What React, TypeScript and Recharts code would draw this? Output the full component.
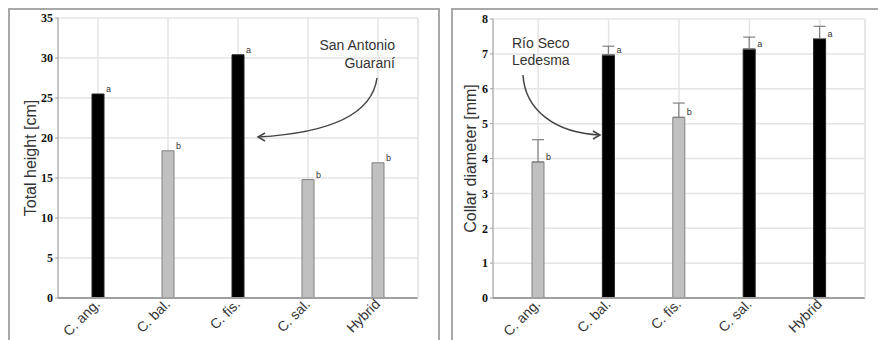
import { Bar, BarChart, CartesianGrid, Cell, ErrorBar, LabelList, XAxis, YAxis } from 'recharts';

const categories = ['C. ang.', 'C. bal.', 'C. fis.', 'C. sal.', 'Hybrid'];
const heightValues = [25.5, 18.4, 30.4, 14.8, 16.9];
const heightLetters = ['a', 'b', 'a', 'b', 'b'];
const heightTicks = [0, 5, 10, 15, 20, 25, 30, 35];
const diameterValues = [3.9, 6.97, 5.18, 7.14, 7.44];
const diameterErrors = [0.64, 0.25, 0.41, 0.34, 0.35];
const diameterLetters = ['b', 'a', 'b', 'a', 'a'];
const diameterTicks = [0, 1, 2, 3, 4, 5, 6, 7, 8];

const heightData = categories.map((name, i) => ({
  name,
  value: heightValues[i],
  letter: heightLetters[i],
}));
const diameterData = categories.map((name, i) => ({
  name,
  value: diameterValues[i],
  err: [0, diameterErrors[i]],
  letter: diameterLetters[i],
}));

const GRID = '#e4e4e4';
const AXIS = '#a0a0a0';
const sans = '"Liberation Sans", Arial, sans-serif';

function XTick({ x, y, payload }: any) {
  const ax = x + 3;
  const ay = y - 1;
  return (
    <text x={ax} y={ay} transform={`rotate(-45 ${ax} ${ay})`} textAnchor="end" fontSize={14} fontFamily={sans} fill="#333">
      {payload.value}
    </text>
  );
}

function Letter({ x, y, width, value }: any) {
  return (
    <text x={x + width + 2} y={y - 2} fontSize={9} fontFamily={sans} fill="#333">
      {value}
    </text>
  );
}

const barFill = (letter: string) => (letter === 'a' ? '#000000' : '#c0c0c0');
const barStroke = (letter: string) => (letter === 'a' ? '#222222' : '#808080');

function Panel({ data, ticks, max, label, withErr, left, width, marginLeft, marginRight, top, padX, labelOffset }: any) {
  return (
    <div style={{ position: 'absolute', left, top: 0 }}>
      <BarChart width={width} height={340} data={data} margin={{ top, right: marginRight, bottom: 0, left: marginLeft }}>
        <CartesianGrid stroke={GRID} strokeWidth={1.5} />
        <XAxis
          dataKey="name"
          height={42}
          tick={<XTick />}
          tickLine={false}
          axisLine={{ stroke: AXIS, strokeWidth: 2 }}
          padding={{ left: padX, right: padX }}
          interval={0}
        />
        <YAxis
          domain={[0, max]}
          ticks={ticks}
          width={48}
          tickSize={3}
          tickMargin={2}
          tick={{ fontSize: 12, fontWeight: 'bold', fontFamily: '"Liberation Serif", serif', fill: '#111' }}
          tickLine={{ stroke: AXIS }}
          axisLine={{ stroke: AXIS }}
          label={{ value: label, angle: -90, position: 'insideLeft', offset: labelOffset, style: { fontSize: 16, fontFamily: sans, fill: '#333', textAnchor: 'middle' } }}
        />
        <YAxis yAxisId="edge" orientation="right" width={1} tick={false} tickLine={false} axisLine={{ stroke: GRID, strokeWidth: 1.5 }} />
        <Bar dataKey="value" barSize={12} isAnimationActive={false}>
          {data.map((d: any) => (
            <Cell key={d.name} fill={barFill(d.letter)} stroke={barStroke(d.letter)} strokeWidth={1} />
          ))}
          {withErr && <ErrorBar dataKey="err" width={6} stroke="#808080" strokeWidth={1.2} direction="y" />}
          <LabelList dataKey="letter" content={<Letter />} />
        </Bar>
      </BarChart>
    </div>
  );
}

function Arrow({ d, tip, dir }: { d: string; tip: [number, number]; dir: number }) {
  const [tx, ty] = tip;
  return (
    <g>
      <path d={d} fill="none" stroke="#444" strokeWidth={1.5} />
      <path d={`M${tx - dir * 7},${ty - 4} L${tx},${ty} L${tx - dir * 7},${ty + 4}`} fill="none" stroke="#444" strokeWidth={1.5} />
    </g>
  );
}

export default function App() {
  return (
    <div style={{ position: 'absolute', left: 0, top: 0, width: 878, height: 340, background: '#fff', overflow: 'hidden' }}>
      <div style={{ position: 'absolute', left: 8, top: 8, width: 428, height: 400, border: '2px solid #a8a8a8' }} />
      <div style={{ position: 'absolute', left: 451, top: 8, width: 440, height: 400, border: '2px solid #a8a8a8' }} />
      <Panel data={heightData} ticks={heightTicks} max={35} label="Total height [cm]" withErr={false} left={0} width={440} marginLeft={10} marginRight={21} top={18} padX={5} labelOffset={20} />
      <Panel data={diameterData} ticks={diameterTicks} max={8} label="Collar diameter [mm]" withErr left={440} width={438} marginLeft={5} marginRight={12} top={19} padX={10} labelOffset={25} />
      <svg width={878} height={340} style={{ position: 'absolute', left: 0, top: 0, pointerEvents: 'none' }}>
        <g fontFamily={sans} fontSize={14} fill="#333">
          <text x={395} y={50} textAnchor="end">San Antonio</text>
          <text x={395} y={68} textAnchor="end">Guaraní</text>
          <text x={512} y={48}>Río Seco</text>
          <text x={512} y={65}>Ledesma</text>
        </g>
        <Arrow d="M377,78 C372,115 330,133 258,137" tip={[258, 137]} dir={-1} />
        <Arrow d="M523,75 C525,110 555,133 600,135" tip={[600, 135]} dir={1} />
      </svg>
    </div>
  );
}
